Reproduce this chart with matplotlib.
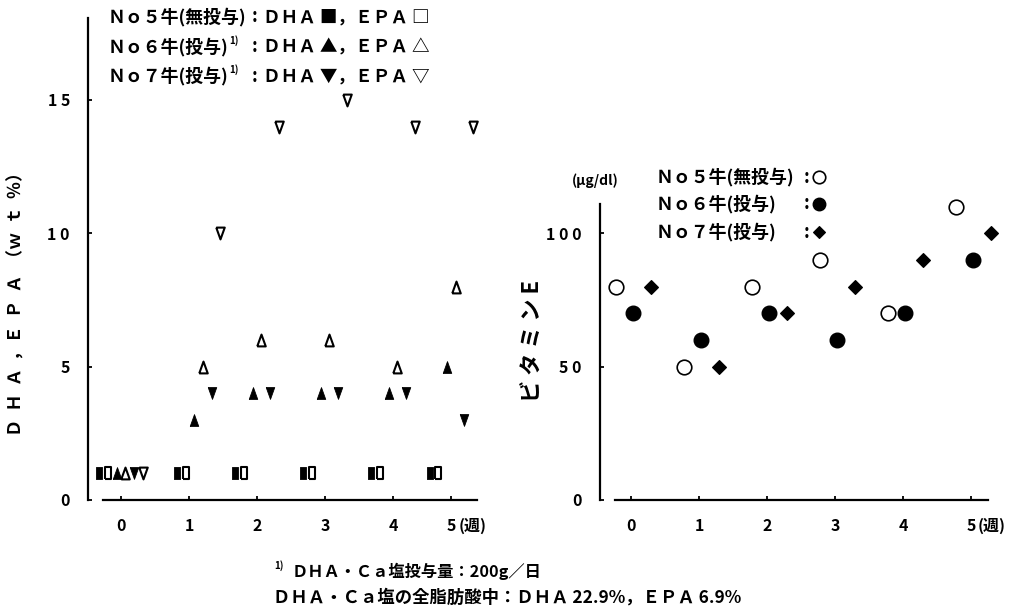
import matplotlib
matplotlib.use('Agg')
import matplotlib.pyplot as plt
from matplotlib.lines import Line2D
import numpy as np

plt.rcParams['font.family'] = ['Noto Sans CJK JP', 'DejaVu Sans']
plt.rcParams['font.weight'] = 'bold'

# ---------------- data ----------------
# left panel: milk fat DHA / EPA (wt%)
sample_day = [0, 8, 14, 21, 28, 34]          # sampling day of each measurement
left_tick_day = [0, 7, 14, 21, 28, 34]       # day at which each week tick is printed
week_labels = ['0', '1', '2', '3', '4', '5']
no5_dha = [1, 1, 1, 1, 1, 1]
no5_epa = [1, 1, 1, 1, 1, 1]
no6_dha = [1, 3, 4, 4, 4, 5]
no6_epa = [1, 5, 6, 6, 5, 8]
no7_dha = [1, 4, 4, 4, 4, 3]
no7_epa = [1, 10, 14, 15, 14, 14]

# right panel: vitamin E (ug/dl)
weeks = [0, 1, 2, 3, 4, 5]
vitE_no5 = [80, 50, 80, 90, 70, 110]
vitE_no6 = [70, 60, 70, 60, 70, 90]
vitE_no7 = [80, 50, 70, 80, 90, 100]

left_yticks = [0, 5, 10, 15]
left_yticklabels = ['0', '5', '1 0', '1 5']
right_yticks = [0, 50, 100]
right_yticklabels = ['0', '5 0', '1 0 0']

# ---------------- figure ----------------
W, H = 1020, 612
fig = plt.figure(figsize=(W / 100, H / 100), dpi=100)
renderer = fig.canvas.get_renderer()


def fx(px):
    return px / W


def fy(py):
    return 1 - py / H


def fit(t, target, vertical=False):
    bb = t.get_window_extent(renderer)
    cur = bb.height if vertical else bb.width
    t.set_fontsize(t.get_fontsize() * target / cur)
    return t.get_fontsize()


def right_edge_px(t):
    bb = t.get_window_extent(renderer)
    return bb.x1


FS = 11.5


def style_axes(ax):
    for s in ('top', 'right'):
        ax.spines[s].set_visible(False)
    for s in ('left', 'bottom'):
        ax.spines[s].set_linewidth(1.6)
    ax.tick_params(direction='in', length=3, width=1.3, pad=13,
                   labelsize=FS)
    for lab in ax.get_xticklabels() + ax.get_yticklabels():
        lab.set_fontweight('bold')


# ---- left axes ----
axL = fig.add_axes([fx(88), fy(500), fx(392), 482 / H])
axL.set_xlim(-0.485, -0.485 + 392 / 68)
axL.set_ylim(0, 482 / 26.67)

rect = [(-0.5, -1), (0.5, -1), (0.5, 1), (-0.5, 1), (-0.5, -1)]
tri_up = [(-0.72, -1), (0.72, -1), (0, 1), (-0.72, -1)]
tri_dn = [(-0.72, 1), (0.72, 1), (0, -1), (-0.72, 1)]

xl = np.array(sample_day) / 7.0
series = [
    (no5_dha, rect, True),
    (no5_epa, rect, False),
    (no6_dha, tri_up, True),
    (no6_epa, tri_up, False),
    (no7_dha, tri_dn, True),
    (no7_epa, tri_dn, False),
]
for i, (vals, mk, filled) in enumerate(series):
    off = (i - 2.5) * 0.128
    if filled:
        axL.plot(xl + off, vals, linestyle='none', marker=mk, ms=8.5,
                 mfc='black', mec='black', mew=0.6, clip_on=False)
    else:
        axL.plot(xl + off, vals, linestyle='none', marker=mk, ms=8.5,
                 mfc='white', mec='black', mew=1.5, clip_on=False)

axL.set_xticks(np.array(left_tick_day) / 7.0)
axL.set_xticklabels(week_labels)
axL.set_yticks(left_yticks)
axL.set_yticklabels(left_yticklabels)
axL.spines['bottom'].set_bounds(-0.26, 5.24)
style_axes(axL)
axL.annotate('(週)', xy=(left_tick_day[-1] / 7.0, 0),
             xycoords=('data', 'axes fraction'), xytext=(5, -13),
             textcoords='offset points', ha='left', va='top',
             fontsize=FS, fontweight='bold')

# ---- right axes ----
axR = fig.add_axes([fx(600), fy(500), fx(390), 296 / H])
axR.set_xlim(-0.456, -0.456 + 390 / 68)
axR.set_ylim(0, 111)
wk = np.array(weeks, dtype=float)
axR.plot(wk - 0.22, vitE_no5, linestyle='none', marker='o', ms=10.5,
         mfc='white', mec='black', mew=1.2, clip_on=False)
axR.plot(wk + 0.03, vitE_no6, linestyle='none', marker='o', ms=10.5,
         mfc='black', mec='black', mew=1.0, clip_on=False)
axR.plot(wk + 0.29, vitE_no7, linestyle='none', marker='D', ms=7.5,
         mfc='black', mec='black', mew=0.8, clip_on=False)
axR.set_xticks(weeks)
axR.set_xticklabels(week_labels)
axR.set_yticks(right_yticks)
axR.set_yticklabels(right_yticklabels)
axR.spines['bottom'].set_bounds(-0.235, 5.25)
style_axes(axR)
axR.annotate('(週)', xy=(weeks[-1], 0),
             xycoords=('data', 'axes fraction'), xytext=(5, -13),
             textcoords='offset points', ha='left', va='top',
             fontsize=FS, fontweight='bold')

# ---- axis titles ----
fig.text(fx(17), fy(300), 'Ｄ  Ｈ  Ａ  ，Ｅ  Ｐ  Ａ  （ｗ  ｔ  ％）', rotation=90,
         ha='center', va='center', fontsize=12.5, fontweight='bold')
t = fig.text(fx(533), fy(341), 'ビ タ ミ ン E', rotation=90,
             ha='center', va='center', fontsize=12, fontweight='bold')
fit(t, 122, vertical=True)
fig.text(fx(595), fy(181), '(μg/dl)', ha='center', va='center',
         fontsize=10, fontweight='bold')

# ---- left legend ----
leg_rows = [
    ('Ｎｏ５牛(無投与)', '', 'ＤＨＡ ■，ＥＰＡ □', 17),
    ('Ｎｏ６牛(投与)', '1)', 'ＤＨＡ ▲，ＥＰＡ △', 47),
    ('Ｎｏ７牛(投与)', '1)', 'ＤＨＡ ▼，ＥＰＡ ▽', 76),
]
lab_fs = None
rest_fs = None
for lab, sup, rest, y in leg_rows:
    tl = fig.text(fx(108), fy(y), lab, ha='left', va='center', fontsize=13,
                  fontweight='bold')
    if lab_fs is None:
        lab_fs = fit(tl, 138)
    else:
        tl.set_fontsize(lab_fs)
    if sup:
        xr = right_edge_px(tl)
        fig.text(fx(xr + 1), fy(y - 6), sup, ha='left', va='center',
                 fontsize=7, fontweight='bold')
    fig.text(fx(255), fy(y), ':', ha='center', va='center', fontsize=13,
             fontweight='bold')
    tr = fig.text(fx(263), fy(y), rest, ha='left', va='center', fontsize=13,
                  fontweight='bold')
    if rest_fs is None:
        rest_fs = fit(tr, 166)
    else:
        tr.set_fontsize(rest_fs)

# ---- right legend ----
rleg = [
    ('Ｎｏ５牛(無投与)', dict(marker='o', ms=9, mfc='white', mec='black', mew=1.2), 177),
    ('Ｎｏ６牛(投与)', dict(marker='o', ms=9, mfc='black', mec='black', mew=1.0), 204),
    ('Ｎｏ７牛(投与)', dict(marker='D', ms=6.5, mfc='black', mec='black', mew=0.8), 232),
]
for lab, mk, y in rleg:
    tl = fig.text(fx(656), fy(y), lab, ha='left', va='center',
                  fontsize=lab_fs, fontweight='bold')
    fig.text(fx(807), fy(y), ':', ha='center', va='center', fontsize=13,
             fontweight='bold')
    fig.add_artist(Line2D([fx(819)], [fy(y)], transform=fig.transFigure,
                          linestyle='none', **mk))

# ---- footnotes ----
fig.text(fx(274), fy(566), '1)', ha='left', va='center', fontsize=7,
         fontweight='bold')
t = fig.text(fx(292), fy(571), 'ＤＨＡ・Ｃａ塩投与量：200g／日', ha='left',
             va='center', fontsize=11.5, fontweight='bold')
fit(t, 251)
t = fig.text(fx(273), fy(598), 'ＤＨＡ・Ｃａ塩の全脂肪酸中：ＤＨＡ 22.9%，ＥＰＡ 6.9%',
             ha='left', va='center', fontsize=11.5, fontweight='bold')
fit(t, 469)

fig.savefig('out.png', dpi=100)
